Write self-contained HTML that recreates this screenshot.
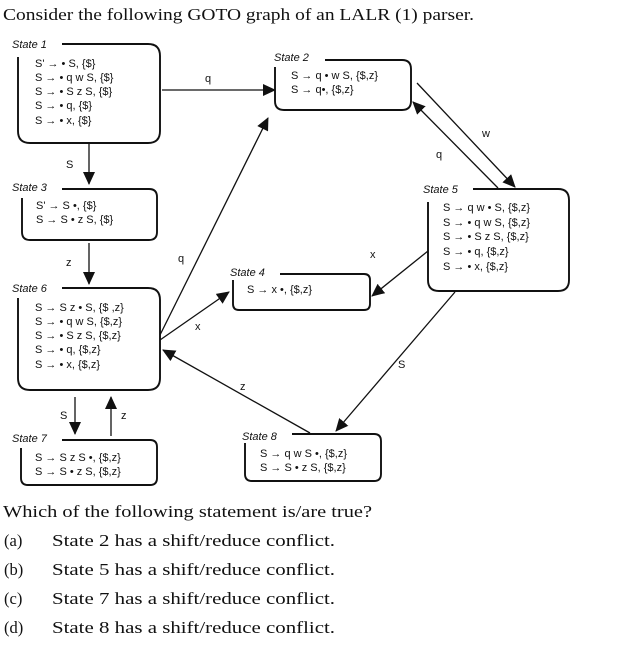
<!DOCTYPE html>
<html><head><style>
html,body{margin:0;padding:0;background:#fff;width:637px;height:658px;overflow:hidden}
svg{display:block}
.q{font-family:"Liberation Serif",serif;font-size:16.5px;fill:#111}
.t{font-family:"Liberation Sans",sans-serif;font-size:11px;font-style:italic;fill:#111}
.i{font-family:"Liberation Sans",sans-serif;font-size:11px;fill:#111}
.l{font-family:"Liberation Sans",sans-serif;font-size:11px;fill:#111}
.b{fill:none;stroke:#111;stroke-width:1.9}
.a{stroke:#111;stroke-width:1.3;fill:none}
</style></head><body>
<svg width="637" height="658" viewBox="0 0 637 658">
<defs><marker id="m" markerWidth="14" markerHeight="12" refX="12" refY="6" orient="auto" markerUnits="userSpaceOnUse"><path d="M0,0 L13,6 L0,12 z" fill="#111"/></marker></defs>
<text class="q" x="3" y="20" textLength="471" lengthAdjust="spacingAndGlyphs">Consider the following GOTO graph of an LALR (1) parser.</text>

<path class="b" d="M18,57 L18,131 Q18,143 30,143 L148,143 Q160,143 160,131 L160,56 Q160,44 148,44 L62,44"/>
<path class="b" d="M275,67 L275,101 Q275,110 284,110 L402,110 Q411,110 411,101 L411,69 Q411,60 402,60 L325,60"/>
<path class="b" d="M22,198 L22,232 Q22,240 30,240 L149,240 Q157,240 157,232 L157,197 Q157,189 149,189 L62,189"/>
<path class="b" d="M428,202 L428,280 Q428,291 439,291 L558,291 Q569,291 569,280 L569,200 Q569,189 558,189 L473,189"/>
<path class="b" d="M233,280 L233,304 Q233,310 239,310 L364,310 Q370,310 370,304 L370,280 Q370,274 364,274 L280,274"/>
<path class="b" d="M18,298 L18,378 Q18,390 30,390 L148,390 Q160,390 160,378 L160,300 Q160,288 148,288 L62,288"/>
<path class="b" d="M21,448 L21,478 Q21,485 28,485 L150,485 Q157,485 157,478 L157,447 Q157,440 150,440 L62,440"/>
<path class="b" d="M245,443 L245,474 Q245,481 252,481 L374,481 Q381,481 381,474 L381,441 Q381,434 374,434 L292,434"/>

<text class="t" x="12" y="48">State 1</text>
<text class="t" x="274" y="61">State 2</text>
<text class="t" x="12" y="191">State 3</text>
<text class="t" x="423" y="193">State 5</text>
<text class="t" x="230" y="276">State 4</text>
<text class="t" x="12" y="292">State 6</text>
<text class="t" x="12" y="442">State 7</text>
<text class="t" x="242" y="440">State 8</text>

<g class="i">
<text x="35" y="67">S' → • S, {$}</text>
<text x="35" y="81">S  → • q w S, {$}</text>
<text x="35" y="95">S  → • S z S, {$}</text>
<text x="35" y="109">S  → • q, {$}</text>
<text x="35" y="124">S  → • x, {$}</text>
<text x="291" y="79">S → q • w S, {$,z}</text>
<text x="291" y="93">S → q•, {$,z}</text>
<text x="36" y="209">S' → S •, {$}</text>
<text x="36" y="223">S  → S • z S, {$}</text>
<text x="443" y="211">S →  q w • S, {$,z}</text>
<text x="443" y="226">S → • q w S, {$,z}</text>
<text x="443" y="240">S → • S z S, {$,z}</text>
<text x="443" y="255">S → • q, {$,z}</text>
<text x="443" y="270">S → • x, {$,z}</text>
<text x="247" y="293">S → x •, {$,z}</text>
<text x="35" y="311">S →  S z • S, {$ ,z}</text>
<text x="35" y="325">S → • q w S, {$,z}</text>
<text x="35" y="339">S → • S z S, {$,z}</text>
<text x="35" y="353">S → • q, {$,z}</text>
<text x="35" y="368">S → • x, {$,z}</text>
<text x="35" y="461">S → S z S •, {$,z}</text>
<text x="35" y="475">S → S • z S, {$,z}</text>
<text x="260" y="457">S → q w S •, {$,z}</text>
<text x="260" y="471">S → S • z S, {$,z}</text>
</g>

<g class="a" marker-end="url(#m)">
<line x1="162" y1="90" x2="275" y2="90"/>
<line x1="89" y1="143" x2="89" y2="184"/>
<line x1="89" y1="243" x2="89" y2="284"/>
<line x1="160" y1="335" x2="268" y2="118"/>
<line x1="160" y1="340" x2="229" y2="292"/>
<line x1="417" y1="83" x2="515" y2="187"/>
<line x1="498" y1="188" x2="413" y2="102"/>
<line x1="428" y1="251" x2="372" y2="296"/>
<line x1="455" y1="292" x2="336" y2="431"/>
<line x1="310" y1="433" x2="163" y2="350"/>
<line x1="75" y1="397" x2="75" y2="434"/>
<line x1="111" y1="436" x2="111" y2="397"/>
</g>

<g class="l">
<text x="205" y="82">q</text>
<text x="66" y="168">S</text>
<text x="66" y="266">z</text>
<text x="178" y="262">q</text>
<text x="195" y="330">x</text>
<text x="482" y="137">w</text>
<text x="436" y="158">q</text>
<text x="370" y="258">x</text>
<text x="398" y="368">S</text>
<text x="240" y="390">z</text>
<text x="60" y="419">S</text>
<text x="121" y="419">z</text>
</g>

<text class="q" x="3" y="517" textLength="369" lengthAdjust="spacingAndGlyphs">Which of the following statement is/are true?</text>
<text class="q" x="4" y="546">(a)</text><text class="q" x="52" y="546" textLength="283" lengthAdjust="spacingAndGlyphs">State 2 has a shift/reduce conflict.</text>
<text class="q" x="4" y="575">(b)</text><text class="q" x="52" y="575" textLength="283" lengthAdjust="spacingAndGlyphs">State 5 has a shift/reduce conflict.</text>
<text class="q" x="4" y="604">(c)</text><text class="q" x="52" y="604" textLength="283" lengthAdjust="spacingAndGlyphs">State 7 has a shift/reduce conflict.</text>
<text class="q" x="4" y="633">(d)</text><text class="q" x="52" y="633" textLength="283" lengthAdjust="spacingAndGlyphs">State 8 has a shift/reduce conflict.</text>
</svg>
</body></html>
